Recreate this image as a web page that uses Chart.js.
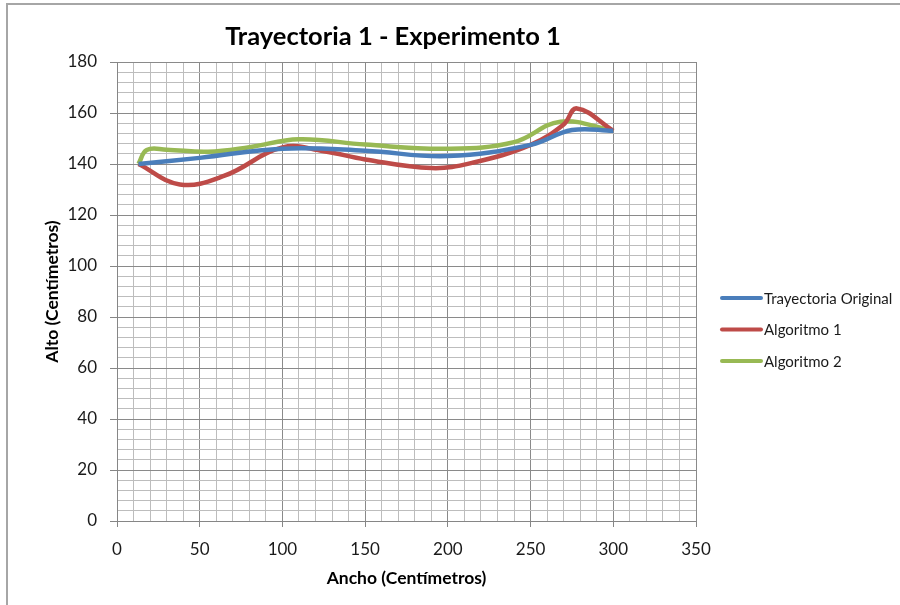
<!DOCTYPE html>
<html>
<head>
<meta charset="utf-8">
<script src="https://cdn.jsdelivr.net/npm/chart.js@4.4.1/dist/chart.umd.min.js"></script>
<style>
  html, body { margin: 0; padding: 0; background: #ffffff; }
  #wrap { width: 900px; height: 605px; position: relative; }
</style>
</head>
<body>
<div id="wrap"><canvas id="c" width="900" height="605"></canvas></div>
<script>
// Trajectory readings (centimetres)
const origX = [13, 50, 100, 150, 200, 250, 275, 300];
const origY = [140, 142.4, 146, 145.2, 143.1, 147.5, 153.3, 153];

const alg1X = [13, 38, 65, 100, 125, 150, 190, 215, 250, 270, 278, 300];
const alg1Y = [140, 132, 135.4, 146.5, 145, 141.8, 138.4, 140.5, 147.5, 155.5, 161.8, 153];

const alg2X = [13, 18, 30, 55, 80, 110, 150, 200, 240, 268, 300];
const alg2Y = [140, 145.5, 145.6, 144.8, 146.6, 149.7, 147.6, 146, 148.6, 156.6, 153];

const seriesNames = ['Trayectoria Original', 'Algoritmo 1', 'Algoritmo 2'];
const seriesColors = ['#4a7ebb', '#be4b48', '#98b954'];

const chartTitle = 'Trayectoria 1 - Experimento 1';
const xTitle = 'Ancho (Centímetros)';
const yTitle = 'Alto (Centímetros)';

const FONT = 'Lato, "Open Sans", sans-serif';

function pts(xs, ys) { return xs.map((x, i) => ({ x: x, y: ys[i] })); }

const frame = {
  id: 'frame',
  beforeDraw(chart) {
    const ctx = chart.ctx;
    ctx.save();
    ctx.fillStyle = '#ffffff';
    ctx.fillRect(0, 0, chart.width, chart.height);
    ctx.strokeStyle = '#a6a6a6';
    ctx.lineWidth = 2;
    ctx.strokeRect(7, 4, 1200, 1200);
    ctx.restore();
  },
  afterDraw(chart) {
    const ctx = chart.ctx;
    ctx.save();
    // heading
    ctx.fillStyle = '#000000';
    ctx.font = 'bold 25.5px ' + FONT;
    ctx.textAlign = 'center';
    ctx.textBaseline = 'middle';
    ctx.fillText(chartTitle, 393, 37);
    // key
    ctx.font = '15px ' + FONT;
    ctx.textAlign = 'left';
    chart.data.datasets.forEach((ds, i) => {
      const y = 298 + i * 31.5;
      ctx.strokeStyle = ds.borderColor;
      ctx.lineWidth = 4;
      ctx.lineCap = 'round';
      ctx.beginPath();
      ctx.moveTo(722, y);
      ctx.lineTo(761, y);
      ctx.stroke();
      ctx.fillStyle = '#1a1a1a';
      ctx.fillText(ds.label, 764, y + 1);
    });
    ctx.restore();
  }
};

const datasets = [
  pts(origX, origY), pts(alg1X, alg1Y), pts(alg2X, alg2Y)
].map((d, i) => ({
  label: seriesNames[i],
  data: d,
  borderColor: seriesColors[i],
  backgroundColor: seriesColors[i],
  borderWidth: 4.5,
  pointRadius: 0,
  showLine: true,
  tension: 0.4,
  fill: false
}));

const majorGrid = '#8a8a8a';
const minorGrid = '#bdbdbd';

new Chart(document.getElementById('c'), {
  type: 'scatter',
  data: { datasets: datasets },
  plugins: [frame],
  options: {
    responsive: false,
    animation: false,
    layout: { padding: { top: 62, right: 204, bottom: 0, left: 0 } },
    plugins: { legend: { display: false }, title: { display: false }, tooltip: { enabled: false } },
    scales: {
      x: {
        type: 'linear',
        min: 0, max: 350,
        afterFit(s) { s.height = 84; },
        ticks: {
          stepSize: 10, autoSkip: false, maxRotation: 0, padding: 12,
          color: '#1a1a1a', font: { family: FONT, size: 17 },
          callback: v => (v % 50 === 0 ? v : '')
        },
        grid: {
          color: c => (c.tick && c.tick.value % 50 === 0 ? majorGrid : minorGrid),
          lineWidth: 1,
          tickLength: 6,
          tickColor: c => (c.tick && c.tick.value % 50 === 0 ? '#868686' : 'rgba(0,0,0,0)')
        },
        border: { color: '#868686', width: 1 },
        title: {
          display: true, text: xTitle, color: '#000000',
          font: { family: FONT, size: 17.5, weight: 'bold' },
          padding: { top: 0, bottom: 16.5 }
        }
      },
      y: {
        type: 'linear',
        min: 0, max: 180,
        afterFit(s) { s.width = 117; },
        ticks: {
          stepSize: 4, autoSkip: false, padding: 13,
          color: '#1a1a1a', font: { family: FONT, size: 17 },
          callback: v => (v % 20 === 0 ? v : '')
        },
        grid: {
          color: c => (c.tick && c.tick.value % 20 === 0 ? majorGrid : minorGrid),
          lineWidth: 1,
          tickLength: 7,
          tickColor: c => (c.tick && c.tick.value % 20 === 0 ? '#868686' : 'rgba(0,0,0,0)')
        },
        border: { color: '#868686', width: 1 },
        title: {
          display: true, text: yTitle, color: '#000000',
          font: { family: FONT, size: 17.5, weight: 'bold' },
          padding: { top: 41.5, bottom: 0 }
        }
      }
    }
  }
});
</script>
</body>
</html>
